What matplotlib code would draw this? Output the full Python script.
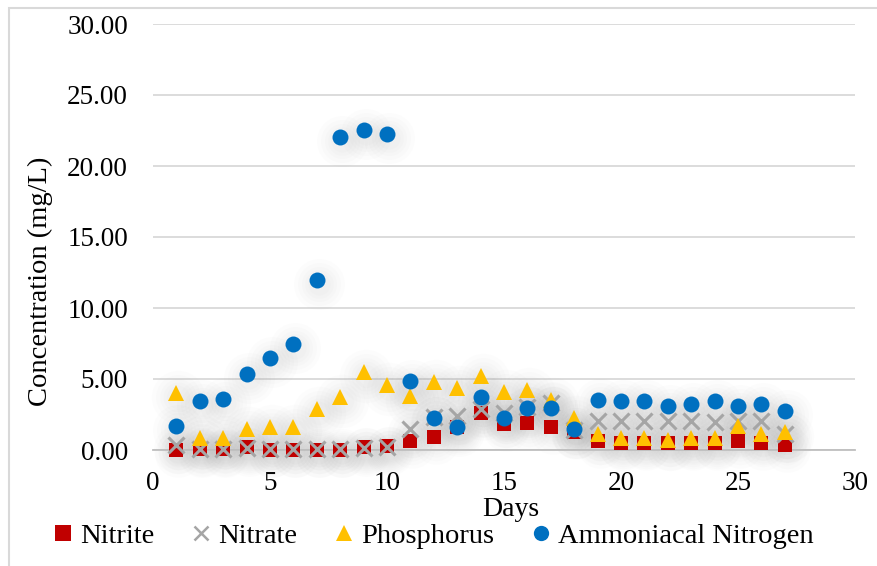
import matplotlib
matplotlib.use("Agg")
import matplotlib.pyplot as plt
import matplotlib.transforms as mtransforms
from matplotlib.patches import Rectangle
from matplotlib.lines import Line2D

plt.rcParams['font.family'] = ['Liberation Serif', 'DejaVu Serif']

days = list(range(1, 28))
nitrite = [0.0, 0.1, 0.1, 0.2, 0.0, 0.0, 0.0, 0.0, 0.2, 0.25, 0.65, 0.95, 1.6, 2.6,
           1.8, 1.9, 1.6, 1.25, 0.6, 0.5, 0.5, 0.5, 0.5, 0.5, 0.6, 0.5, 0.35]
nitrate = [0.33, 0.1, 0.1, 0.15, 0.1, 0.1, 0.1, 0.1, 0.15, 0.2, 1.5, 2.3, 2.4, 2.9,
           2.6, 3.0, 3.3, 1.4, 2.05, 2.05, 2.05, 2.05, 2.05, 1.95, 2.05, 2.05, 1.1]
phosphorus = [4.0, 0.85, 0.85, 1.45, 1.6, 1.6, 2.9, 3.72, 5.48, 4.55, 3.82, 4.82, 4.4, 5.2,
              4.1, 4.2, 3.5, 2.28, 1.15, 0.87, 0.87, 0.68, 0.85, 0.85, 1.67, 1.15, 1.3]
ammonia = [1.68, 3.42, 3.56, 5.32, 6.47, 7.45, 11.97, 22.06, 22.54, 22.23, 4.86, 2.25,
           1.62, 3.72, 2.28, 2.94, 2.94, 1.46, 3.55, 3.42, 3.42, 3.08, 3.27, 3.42, 3.08,
           3.27, 2.75]

series = [
    ("Nitrite", nitrite, 's', '#C00000', 10.5),
    ("Nitrate", nitrate, 'x', '#A5A5A5', 11),
    ("Phosphorus", phosphorus, '^', '#FFC000', 12),
    ("Ammoniacal Nitrogen", ammonia, 'o', '#0070C0', 11.5),
]

W, H = 877, 566
fig = plt.figure(figsize=(W / 100, H / 100), dpi=100)
# chart border (left & top visible)
fig.patches.append(Rectangle((9 / W, -0.1), 1.2, (1 - 7.5 / H) + 0.1, transform=fig.transFigure,
                             fill=False, edgecolor='#D9D9D9', linewidth=1.5))

ax = fig.add_axes([153 / W, 1 - 450 / H, (855 - 153) / W, (450 - 24) / H])
ax.set_xlim(0, 30)
ax.set_ylim(0, 30)
ax.set_yticks([0, 5, 10, 15, 20, 25, 30])
ax.set_yticklabels([f"{v:.2f}" for v in [0, 5, 10, 15, 20, 25, 30]])
ax.set_xticks([0, 5, 10, 15, 20, 25, 30])
ax.tick_params(axis='both', length=0, labelsize=19.5, colors='black')
ax.tick_params(axis='y', pad=18)
ax.tick_params(axis='x', pad=15)
ax.grid(axis='y', color='#D9D9D9', linewidth=1.3)
ax.set_axisbelow(True)
for s in ['left', 'right', 'top']:
    ax.spines[s].set_visible(False)
ax.spines['bottom'].set_color('#BFBFBF')
ax.spines['bottom'].set_linewidth(1.3)
ax.spines['bottom'].set_zorder(1.5)

# soft shadows
shadow_tr = mtransforms.offset_copy(ax.transData, fig=fig, x=2, y=-4, units='dots')
for name, vals, mk, col, ms in series:
    for k, scale in enumerate([3.2, 2.7, 2.2, 1.8, 1.4]):
        ax.scatter(days, vals, s=(ms * scale) ** 2, marker='o', color='#808080',
                   alpha=0.018, linewidths=0, transform=shadow_tr, zorder=1, clip_on=False)

for i, (name, vals, mk, col, ms) in enumerate(series):
    if mk == 'x':
        ax.plot(days, vals, linestyle='none', marker=mk, markersize=ms, markeredgewidth=2.2,
                color=col, zorder=3 + i, clip_on=False)
    else:
        ax.plot(days, vals, linestyle='none', marker=mk, markersize=ms, color=col,
                markeredgewidth=0, zorder=3 + i, clip_on=False)

fig.text(40 / W, 1 - 281 / H, "Concentration (mg/L)", rotation=90, ha='center', va='center',
         fontsize=20.5)
fig.text(511 / W, 1 - 509 / H, "Days", ha='center', va='center', fontsize=20)

handles = []
for name, vals, mk, col, ms in series:
    if mk == 'x':
        h = Line2D([], [], linestyle='none', marker=mk, markersize=10.5, markeredgewidth=1.8,
                   color=col, label=name)
    elif mk == '^':
        h = Line2D([], [], linestyle='none', marker=mk, markersize=11, color=col,
                   markeredgewidth=0, label=name)
    else:
        h = Line2D([], [], linestyle='none', marker=mk, markersize=11, color=col,
                   markeredgewidth=0, label=name)
    handles.append(h)
fig.legend(handles=handles, loc='center', bbox_to_anchor=(434 / W, 1 - 536 / H), ncol=4,
           frameon=False, fontsize=20.5, handlelength=0.6, handletextpad=0.3,
           columnspacing=1.35, borderaxespad=0, borderpad=0)

fig.savefig("out.png", dpi=100)
